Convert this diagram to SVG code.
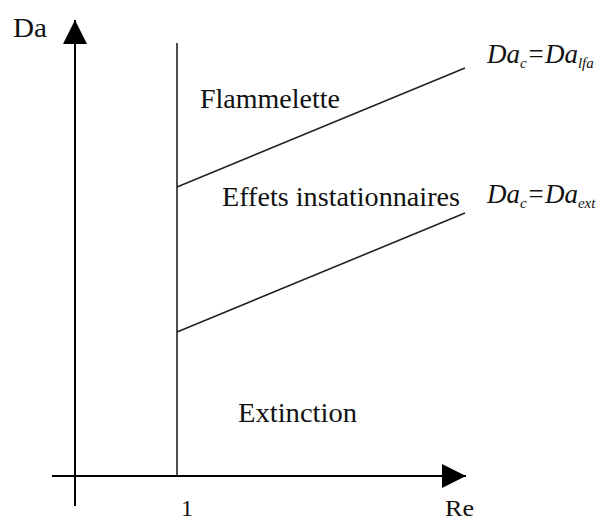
<svg xmlns="http://www.w3.org/2000/svg" width="601" height="523" viewBox="0 0 601 523">
<style>
.ax{stroke:#000;stroke-width:2;fill:none}
.ln{stroke:#222;stroke-width:1.6;fill:none}
.t{font-family:"Liberation Serif","DejaVu Serif","Times New Roman",serif;fill:#111}
.it{font-family:"Liberation Serif","DejaVu Serif","Times New Roman",serif;font-style:italic;fill:#111}
</style>
<defs>
<marker id="arr" markerUnits="userSpaceOnUse" markerWidth="26" markerHeight="26" refX="24" refY="12" orient="auto" viewBox="0 0 26 24">
<path d="M0,0 L24,12 L0,24 Z" fill="#000"/>
</marker>
</defs>
<rect width="601" height="523" fill="#fff"/>
<g id="connectors">
<line id="y-axis" class="ax" x1="75" y1="506" x2="75" y2="20" marker-end="url(#arr)"/>
<line id="x-axis" class="ax" x1="52" y1="476" x2="466" y2="476" marker-end="url(#arr)"/>
<line id="re1" class="ln" x1="177" y1="43" x2="177" y2="476"/>
<line id="lfa-line" class="ln" x1="177" y1="187" x2="465" y2="68"/>
<line id="ext-line" class="ln" x1="177" y1="332" x2="465" y2="213"/>
</g>
<g id="label-da"><text class="t" x="13" y="37" font-size="28" textLength="34" lengthAdjust="spacingAndGlyphs">Da</text></g>
<g id="label-re"><text class="t" x="445" y="516" font-size="24" textLength="29" lengthAdjust="spacingAndGlyphs">Re</text></g>
<g id="label-1"><text class="t" x="181" y="516" font-size="24">1</text></g>
<g id="region-flammelette"><text class="t" x="200" y="108" font-size="28" textLength="140" lengthAdjust="spacingAndGlyphs">Flammelette</text></g>
<g id="region-effets"><text class="t" x="222" y="206" font-size="28" textLength="238" lengthAdjust="spacingAndGlyphs">Effets instationnaires</text></g>
<g id="region-extinction"><text class="t" x="238" y="422" font-size="28" textLength="119" lengthAdjust="spacingAndGlyphs">Extinction</text></g>
<g id="label-lfa"><text class="it" x="487" y="63" font-size="27">Da<tspan font-size="15" dy="5">c</tspan><tspan dy="-5">=Da</tspan><tspan font-size="15" dy="5">lfa</tspan></text></g>
<g id="label-ext"><text class="it" x="487" y="203" font-size="27">Da<tspan font-size="15" dy="5">c</tspan><tspan dy="-5">=Da</tspan><tspan font-size="15" dy="5">ext</tspan></text></g>
</svg>
